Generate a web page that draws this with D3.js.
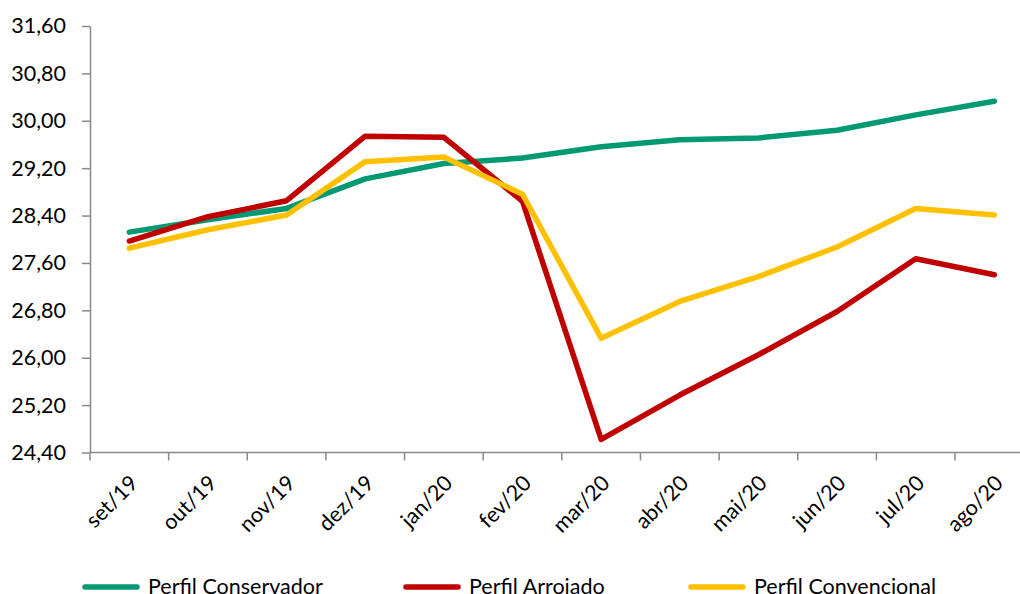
<!DOCTYPE html>
<html>
<head>
<meta charset="utf-8">
<script src="https://cdn.jsdelivr.net/npm/d3@7"></script>
<style>
html,body{margin:0;padding:0;background:#fff;}
svg{display:block;font-family:Lato, "Open Sans", sans-serif;}
</style>
</head>
<body>
<svg id="chart" width="1020" height="594"></svg>
<script>
const categories = ["set/19","out/19","nov/19","dez/19","jan/20","fev/20","mar/20","abr/20","mai/20","jun/20","jul/20","ago/20"];
const conservador = [28.12,28.33,28.52,29.02,29.28,29.37,29.56,29.68,29.71,29.84,30.10,30.33];
const arrojado    = [27.97,28.38,28.65,29.74,29.72,28.64,24.62,25.37,26.05,26.78,27.67,27.40];
const convencional= [27.85,28.16,28.41,29.31,29.39,28.76,26.33,26.95,27.37,27.87,28.52,28.41];
const yTicks = [24.4,25.2,26.0,26.8,27.6,28.4,29.2,30.0,30.8,31.6];
const seriesNames = ["Perfil Conservador","Perfil Arrojado","Perfil Convencional"];
const seriesColors = ["#009973","#C00000","#FFC000"];

(function(){
const series = [conservador, arrojado, convencional];
const svg = d3.select("#chart");
const mLeft = 90, mTop = 26, mBottom = 452.5;
const step = 78.64;
const fs = 21.5;
const x = d3.scaleBand().domain(categories).range([mLeft, mLeft + step*categories.length]).padding(0);
const y = d3.scaleLinear().domain([24.4, 31.6]).range([mBottom, mTop]);
const fmt = v => v.toFixed(2).replace(".", ",");
const axisColor = "#898989";

// Y axis
const yAxis = svg.append("g").attr("transform", `translate(${mLeft},0)`)
  .call(d3.axisLeft(y).tickValues(yTicks).tickFormat(fmt).tickSize(8).tickSizeOuter(0).tickPadding(16));
yAxis.select(".domain").attr("stroke", axisColor).attr("stroke-width", 1.5);
yAxis.selectAll(".tick line").attr("stroke", axisColor).attr("stroke-width", 1.5);
yAxis.selectAll(".tick text").attr("font-size", fs).attr("fill", "#000").attr("font-family", "Lato, sans-serif");

// X axis
const xAxis = svg.append("g").attr("transform", `translate(0,${mBottom})`);
xAxis.append("line").attr("x1", mLeft).attr("x2", 1020).attr("y1", 0).attr("y2", 0)
  .attr("stroke", axisColor).attr("stroke-width", 1.5);
categories.forEach(c => {
  const xb = x(c);
  xAxis.append("line").attr("x1", xb).attr("x2", xb).attr("y1", 0).attr("y2", 8)
    .attr("stroke", axisColor).attr("stroke-width", 1.5);
  const cx = xb + x.bandwidth()/2;
  xAxis.append("text")
    .attr("transform", `translate(${cx + 10},${32}) rotate(-45)`)
    .attr("text-anchor", "end")
    .attr("font-size", fs).attr("fill", "#000")
    .text(c);
});

// Lines
const line = d3.line().x((d,i) => x(categories[i]) + x.bandwidth()/2).y(d => y(d));
series.forEach((s, k) => {
  svg.append("path").datum(s).attr("d", line)
    .attr("fill", "none").attr("stroke", seriesColors[k]).attr("stroke-width", 5.5)
    .attr("stroke-linejoin", "round").attr("stroke-linecap", "round");
});

// Legend
const legendX = [83, 404, 689];
series.forEach((s, k) => {
  const g = svg.append("g").attr("transform", `translate(${legendX[k]},587)`);
  g.append("line").attr("x1", 2).attr("x2", 54).attr("y1", 0).attr("y2", 0)
    .attr("stroke", seriesColors[k]).attr("stroke-width", 5.5).attr("stroke-linecap", "round");
  g.append("text").attr("x", 65).attr("y", 6.5).attr("font-size", fs).attr("fill", "#000")
    .text(seriesNames[k]);
});
})();
</script>
</body>
</html>
